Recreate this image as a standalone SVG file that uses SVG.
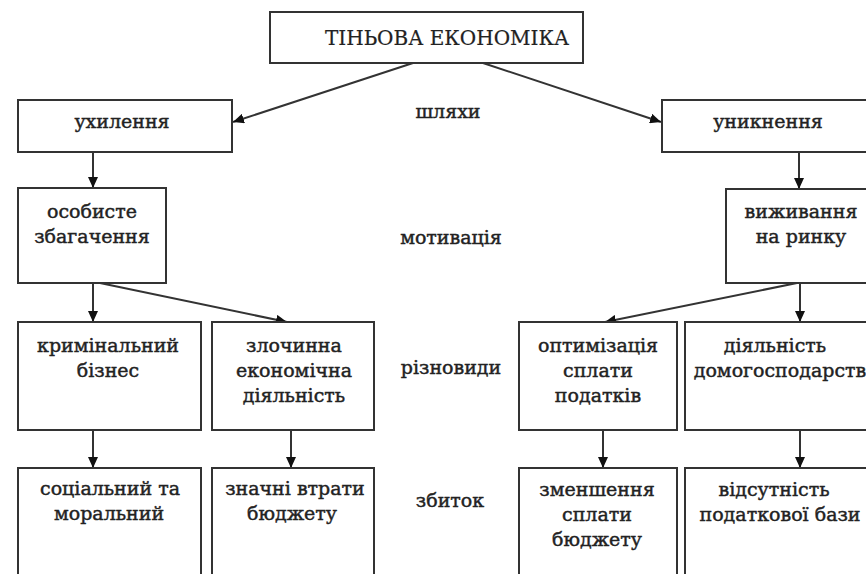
<svg xmlns="http://www.w3.org/2000/svg" width="866" height="574" viewBox="0 0 866 574">
<defs>
<marker id="ah" markerUnits="userSpaceOnUse" markerWidth="12" markerHeight="10" refX="11" refY="5" orient="auto">
<path d="M0,0 L11,5 L0,10 Z" fill="#111"/>
</marker>
<style>
.box{fill:#fff;stroke:#333;stroke-width:2}
.t{font-family:"DejaVu Serif",serif;font-size:19px;fill:#222;stroke:#222;stroke-width:0.45;text-anchor:middle}
.h{font-size:20px;stroke-width:0.2}
.c{fill:none;stroke:#333;stroke-width:2;marker-end:url(#ah)}
</style>
</defs>
<rect width="866" height="574" fill="#fff"/>
<g id="connectors">
<line class="c" x1="413" y1="63" x2="233" y2="122"/>
<line class="c" x1="483" y1="63" x2="661" y2="122"/>
<line class="c" x1="93" y1="152" x2="93" y2="188"/>
<line class="c" x1="799" y1="152" x2="799" y2="189"/>
<line class="c" x1="93" y1="283" x2="93" y2="322"/>
<line class="c" x1="100" y1="283" x2="287" y2="322"/>
<line class="c" x1="797" y1="283" x2="605" y2="322"/>
<line class="c" x1="800" y1="283" x2="800" y2="322"/>
<line class="c" x1="93" y1="430" x2="93" y2="468"/>
<line class="c" x1="291" y1="430" x2="291" y2="468"/>
<line class="c" x1="603" y1="430" x2="603" y2="468"/>
<line class="c" x1="800" y1="430" x2="800" y2="468"/>
</g>
<g id="title"><rect class="box" x="270" y="12" width="313" height="51"/><text class="t h" x="447" y="45">ТІНЬОВА ЕКОНОМІКА</text></g>
<g id="uhylennia"><rect class="box" x="18" y="100" width="214" height="52"/><text class="t" x="122" y="128">ухилення</text></g>
<g id="unyknennia"><rect class="box" x="662" y="100" width="220" height="52"/><text class="t" x="768" y="128">уникнення</text></g>
<g id="osobyste"><rect class="box" x="18" y="188" width="148" height="95"/><text class="t" x="92" y="218">особисте</text><text class="t" x="92" y="243">збагачення</text></g>
<g id="vyzhyvannia"><rect class="box" x="726" y="189" width="156" height="94"/><text class="t" x="801" y="218">виживання</text><text class="t" x="801" y="243">на ринку</text></g>
<g id="kryminalnyi"><rect class="box" x="18" y="322" width="183" height="108"/><text class="t" x="108" y="352">кримінальний</text><text class="t" x="108" y="377">бізнес</text></g>
<g id="zlochynna"><rect class="box" x="212" y="322" width="162" height="108"/><text class="t" x="294" y="352">злочинна</text><text class="t" x="294" y="377">економічна</text><text class="t" x="294" y="402">діяльність</text></g>
<g id="optymizatsia"><rect class="box" x="519" y="322" width="158" height="108"/><text class="t" x="598" y="352">оптимізація</text><text class="t" x="598" y="377">сплати</text><text class="t" x="598" y="402">податків</text></g>
<g id="diialnist"><rect class="box" x="685" y="322" width="197" height="108"/><text class="t" x="775" y="352">діяльність</text><text class="t" x="780" y="377">домогосподарств</text></g>
<g id="sotsialnyi"><rect class="box" x="18" y="468" width="183" height="122"/><text class="t" x="110" y="495">соціальний та</text><text class="t" x="109" y="520">моральний</text></g>
<g id="vtraty"><rect class="box" x="212" y="468" width="162" height="122"/><text class="t" x="295" y="495">значні втрати</text><text class="t" x="292" y="520">бюджету</text></g>
<g id="zmenshennia"><rect class="box" x="519" y="468" width="158" height="122"/><text class="t" x="597" y="496">зменшення</text><text class="t" x="597" y="521">сплати</text><text class="t" x="597" y="546">бюджету</text></g>
<g id="vidsutnist"><rect class="box" x="685" y="468" width="197" height="122"/><text class="t" x="774" y="496">відсутність</text><text class="t" x="780" y="521">податкової бази</text></g>
<g id="labels">
<text class="t" x="448" y="118">шляхи</text>
<text class="t" x="451" y="244">мотивація</text>
<text class="t" x="451" y="374">різновиди</text>
<text class="t" x="450" y="507">збиток</text>
</g>
</svg>
